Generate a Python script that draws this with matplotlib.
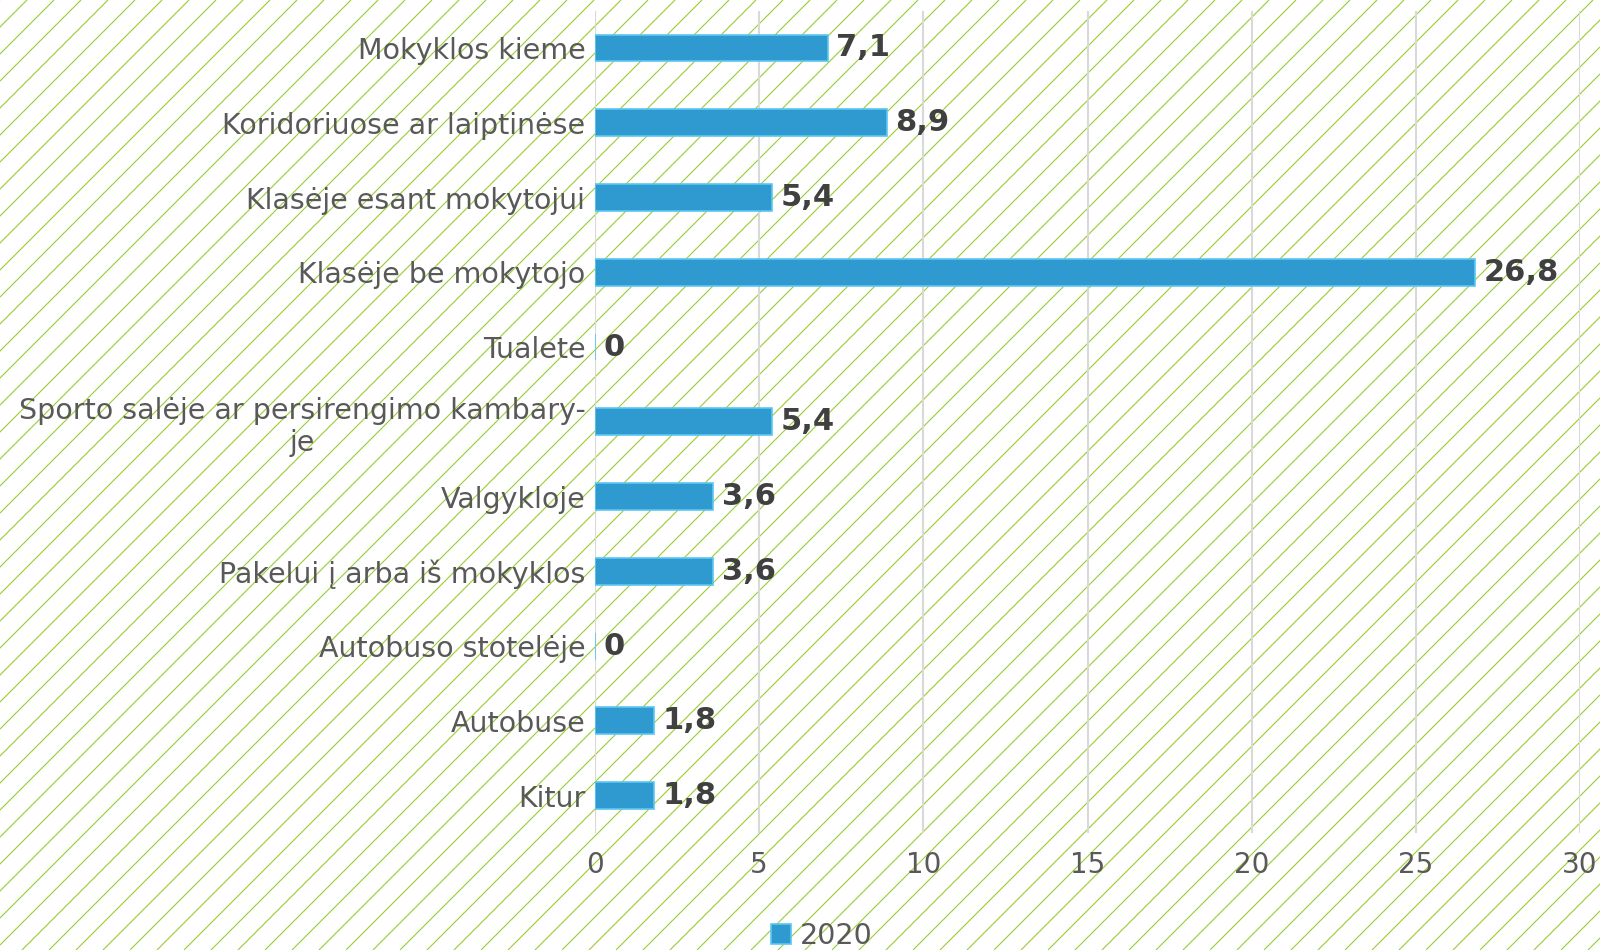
import numpy as np
import matplotlib
matplotlib.use("Agg")
import matplotlib.pyplot as plt

# data (top to bottom as in the chart)
categories = [
    "Mokyklos kieme",
    "Koridoriuose ar laiptinėse",
    "Klasėje esant mokytojui",
    "Klasėje be mokytojo",
    "Tualete",
    "Sporto salėje ar persirengimo kambary-\nje",
    "Valgykloje",
    "Pakelui į arba iš mokyklos",
    "Autobuso stotelėje",
    "Autobuse",
    "Kitur",
]
values = [7.1, 8.9, 5.4, 26.8, 0, 5.4, 3.6, 3.6, 0, 1.8, 1.8]
series_name = "2020"
xticks = [0, 5, 10, 15, 20, 25, 30]

W, H = 1600, 950
fig = plt.figure(figsize=(W / 100, H / 100), dpi=100)
fig.patch.set_facecolor("white")

# hatched background over whole figure
bg = fig.add_axes([0, 0, 1, 1], zorder=0)
bg.set_xlim(0, W)
bg.set_ylim(0, H)
bg.axis("off")
step = 27
for c in np.arange(-H, W + step, step):
    bg.plot([c, c + H], [0, H], color="#9ACD32", lw=0.8, solid_capstyle="butt")

ax = fig.add_axes([595 / W, 1 - 833 / H, (1580 - 595) / W, (833 - 10.6) / H], zorder=1)
ax.patch.set_alpha(0)

y = np.arange(len(categories))
ax.grid(axis="x", color="#D9D9D9", lw=1.5, zorder=1)
ax.set_axisbelow(True)
ax.axvline(0, color="#D9D9D9", lw=1.5, zorder=1)
bars = ax.barh(y, values, height=0.36, color="#2E9AD0", edgecolor="#5CC6F2",
               linewidth=1.2, zorder=3, label=series_name)
ax.set_ylim(len(categories) - 0.5, -0.5)
ax.set_xlim(0, 30)
ax.set_xticks(xticks)
ax.set_xticklabels([str(t) for t in xticks])
ax.set_yticks(y)
ax.set_yticklabels(categories, multialignment="center")

for v, yy in zip(values, y):
    ax.annotate(f"{v:g}".replace(".", ","), (v, yy), xytext=(6, 0),
                textcoords="offset points", ha="left", va="center",
                fontsize=22, fontweight="bold", color="#404040", zorder=4)

for s in ax.spines.values():
    s.set_visible(False)
ax.tick_params(axis="both", length=0, colors="#595959", labelsize=20.5)
ax.tick_params(axis="y", pad=7)
ax.tick_params(axis="x", pad=13)
ax.tick_params(axis="x", labelsize=20)

leg = fig.legend(loc="center", bbox_to_anchor=(822 / W, 1 - 936 / H), frameon=False,
                 fontsize=20.5, handlelength=0.7, handleheight=0.7, handletextpad=0.3)
for t in leg.get_texts():
    t.set_color("#595959")

fig.savefig("out.png", dpi=100)
